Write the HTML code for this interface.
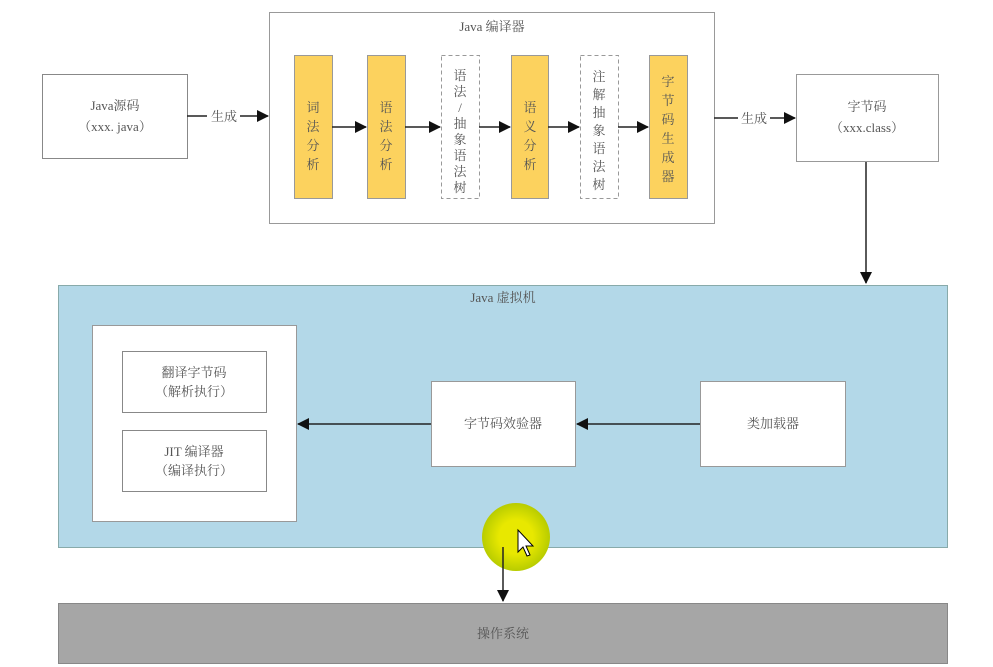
<!DOCTYPE html>
<html><head><meta charset="utf-8"><style>
html,body{margin:0;padding:0;background:#fff;}
svg{display:block;}
text{font-family:"Liberation Serif","Noto Serif CJK SC",serif;fill:#555;font-size:13px;}
</style></head><body>
<svg width="993" height="667" viewBox="0 0 993 667" xmlns="http://www.w3.org/2000/svg">
<defs>
<marker id="a" markerWidth="12" markerHeight="12" refX="11" refY="6" orient="auto" markerUnits="userSpaceOnUse">
<path d="M0,0 L12,6 L0,12 Z" fill="#111"/></marker>
<radialGradient id="g"><stop offset="0.5" stop-color="#e8e800"/><stop offset="1" stop-color="#b8cc00"/></radialGradient>
</defs>
<rect width="993" height="667" fill="#fff"/>
<rect x="42.5" y="74.5" width="145" height="84" fill="#fff" stroke="#888"/>
<text x="115" y="110" text-anchor="middle" font-size="14">Java源码</text>
<text x="115" y="131" text-anchor="middle" font-size="14">（xxx. java）</text>
<line x1="187" y1="116" x2="207" y2="116" stroke="#222" stroke-width="1.5"/>
<text x="224" y="121" text-anchor="middle" font-size="14">生成</text>
<line x1="240" y1="116" x2="268" y2="116" stroke="#222" stroke-width="1.5" marker-end="url(#a)"/>
<rect x="269.5" y="12.5" width="445" height="211" fill="#fff" stroke="#999"/>
<text x="492" y="31" text-anchor="middle" font-size="14">Java 编译器</text>
<g stroke="#999">
<rect x="294.5" y="55.5" width="38" height="143" fill="#fcd25e"/>
<rect x="367.5" y="55.5" width="38" height="143" fill="#fcd25e"/>
<rect x="441.5" y="55.5" width="38" height="143" fill="#fff" stroke-dasharray="4,3"/>
<rect x="511.5" y="55.5" width="37" height="143" fill="#fcd25e"/>
<rect x="580.5" y="55.5" width="38" height="143" fill="#fff" stroke-dasharray="4,3"/>
<rect x="649.5" y="55.5" width="38" height="143" fill="#fcd25e"/>
</g>
<g text-anchor="middle" font-size="15">
<text x="313" y="112">词</text><text x="313" y="131">法</text><text x="313" y="150">分</text><text x="313" y="169">析</text>
<text x="386" y="112">语</text><text x="386" y="131">法</text><text x="386" y="150">分</text><text x="386" y="169">析</text>
<text x="460" y="80">语</text><text x="460" y="96">法</text><text x="460" y="112">/</text><text x="460" y="128">抽</text><text x="460" y="144">象</text><text x="460" y="160">语</text><text x="460" y="176">法</text><text x="460" y="192">树</text>
<text x="530" y="112">语</text><text x="530" y="131">义</text><text x="530" y="150">分</text><text x="530" y="169">析</text>
<text x="599" y="81">注</text><text x="599" y="99">解</text><text x="599" y="117">抽</text><text x="599" y="135">象</text><text x="599" y="153">语</text><text x="599" y="171">法</text><text x="599" y="189">树</text>
<text x="668" y="86">字</text><text x="668" y="105">节</text><text x="668" y="124">码</text><text x="668" y="143">生</text><text x="668" y="162">成</text><text x="668" y="181">器</text>
</g>
<g stroke="#222" stroke-width="1.5" fill="none">
<line x1="332" y1="127" x2="366" y2="127" marker-end="url(#a)"/>
<line x1="405" y1="127" x2="440" y2="127" marker-end="url(#a)"/>
<line x1="479" y1="127" x2="510" y2="127" marker-end="url(#a)"/>
<line x1="548" y1="127" x2="579" y2="127" marker-end="url(#a)"/>
<line x1="618" y1="127" x2="648" y2="127" marker-end="url(#a)"/>
<line x1="714" y1="118" x2="738" y2="118"/>
<line x1="770" y1="118" x2="795" y2="118" marker-end="url(#a)"/>
<line x1="866" y1="161" x2="866" y2="283" marker-end="url(#a)"/>
</g>
<text x="754" y="123" text-anchor="middle" font-size="14">生成</text>
<rect x="796.5" y="74.5" width="142" height="87" fill="#fff" stroke="#999"/>
<text x="867" y="111" text-anchor="middle" font-size="14">字节码</text>
<text x="867" y="132" text-anchor="middle" font-size="14">（xxx.class）</text>
<rect x="58.5" y="285.5" width="889" height="262" fill="#b3d8e8" stroke="#8aa"/>
<text x="503" y="302" text-anchor="middle" font-size="14">Java 虚拟机</text>
<rect x="92.5" y="325.5" width="204" height="196" fill="#fff" stroke="#999"/>
<rect x="122.5" y="351.5" width="144" height="61" fill="#fff" stroke="#888"/>
<text x="194" y="377" text-anchor="middle" font-size="14">翻译字节码</text>
<text x="194" y="396" text-anchor="middle" font-size="14">（解析执行）</text>
<rect x="122.5" y="430.5" width="144" height="61" fill="#fff" stroke="#888"/>
<text x="194" y="456" text-anchor="middle" font-size="14">JIT 编译器</text>
<text x="194" y="475" text-anchor="middle" font-size="14">（编译执行）</text>
<rect x="431.5" y="381.5" width="144" height="85" fill="#fff" stroke="#999"/>
<text x="503" y="428" text-anchor="middle" font-size="14">字节码效验器</text>
<rect x="700.5" y="381.5" width="145" height="85" fill="#fff" stroke="#999"/>
<text x="773" y="428" text-anchor="middle" font-size="14">类加载器</text>
<g stroke="#222" stroke-width="1.5">
<line x1="431" y1="424" x2="298" y2="424" marker-end="url(#a)"/>
<line x1="700" y1="424" x2="577" y2="424" marker-end="url(#a)"/>
</g>
<rect x="58.5" y="603.5" width="889" height="60" fill="#a6a6a6" stroke="#888"/>
<text x="503" y="638" text-anchor="middle" fill="#444" font-size="14">操作系统</text>
<circle cx="516" cy="537" r="34" fill="url(#g)"/>
<line x1="503" y1="547" x2="503" y2="601" stroke="#222" stroke-width="1.5" marker-end="url(#a)"/>
<path d="M518,530 L518,552 L523,547 L527,556 L530,555 L526,546 L533,546 Z" fill="#fff" stroke="#000"/>
</svg>
</body></html>
